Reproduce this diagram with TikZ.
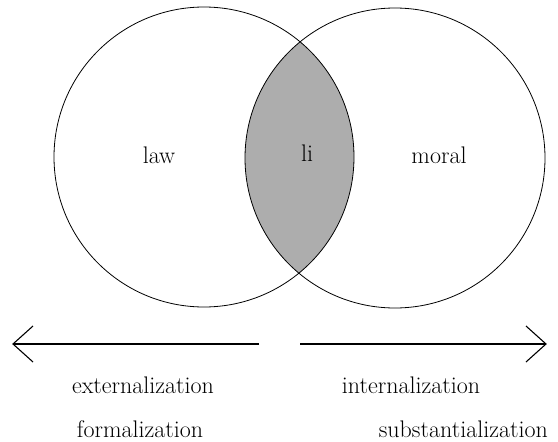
\documentclass[tikz,border=0pt]{standalone}
\usetikzlibrary{positioning}
\begin{document}
\begin{tikzpicture}[x=1pt,y=-1pt,
ring/.style = {line width=0.8pt,black},
axis/.style = {line width=1.1pt,black},
every node/.append style = {font=\fontsize{24}{28}\selectfont,inner sep=0pt}]

        \useasboundingbox (0,0) rectangle (558,442);

        \coordinate (C_Law) at ( 204, 157 );
        \coordinate (C_Moral) at ( 395, 158 );
        % shared part
        \begin{scope}
            \clip (C_Law) circle (150pt);
            \fill[black!32] (C_Moral) circle (150pt);
        \end{scope}
        \draw[ring] (C_Law) circle (150pt);
        \draw[ring] (C_Moral) circle (150pt);
        \node (law) at ( 159, 155 ) {law};
        \node (li) at ( 307, 153 ) {li};
        \node (moral) at ( 439, 155 ) {moral};

        \coordinate (Ext_Tip) at ( 13, 344 );
        \coordinate (Ext_End) at ( 259, 344 );
        \coordinate (Ext_Tip_ArrUp) at ( 33, 326 );
        \coordinate (Ext_Tip_ArrDown) at ( 33, 362 );
        \draw[axis] (Ext_End) -- (Ext_Tip);
        \draw[axis] (Ext_Tip_ArrUp) -- (Ext_Tip) -- (Ext_Tip_ArrDown);

        \coordinate (Int_Start) at ( 300, 344 );
        \coordinate (Int_Tip) at ( 546, 344 );
        \coordinate (Int_Tip_ArrUp) at ( 526, 326 );
        \coordinate (Int_Tip_ArrDown) at ( 526, 362 );
        \draw[axis] (Int_Start) -- (Int_Tip);
        \draw[axis] (Int_Tip_ArrUp) -- (Int_Tip) -- (Int_Tip_ArrDown);

        \node [anchor=base] (ext) at ( 143, 393 ) {externalization};
        \node [anchor=base] (form) at ( 140, 437 ) {formalization};
        \node [anchor=base] (int) at ( 411, 393 ) {internalization};
        \node [anchor=base east] (subst) at ( 548, 437 ) {substantialization};

    \end{tikzpicture}
\end{document}
